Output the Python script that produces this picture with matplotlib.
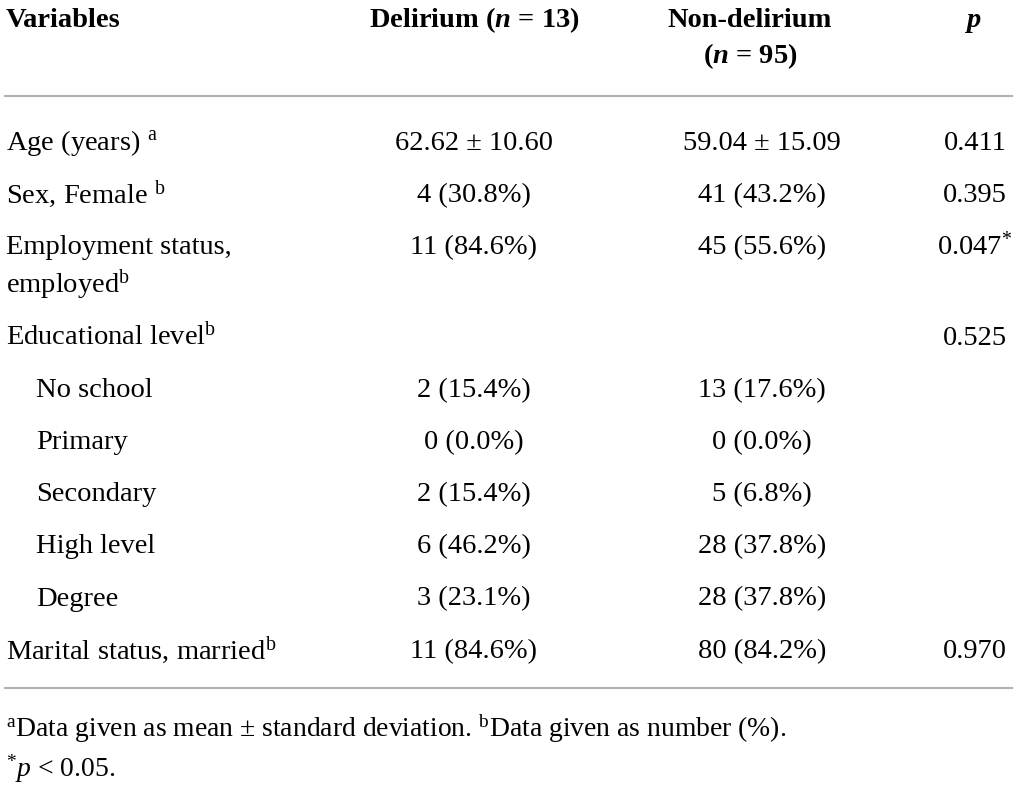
import matplotlib
matplotlib.use("Agg")
import matplotlib.pyplot as plt

plt.rcParams["font.family"] = ["Liberation Serif", "DejaVu Serif"]
plt.rcParams["mathtext.fontset"] = "custom"
plt.rcParams["mathtext.rm"] = "Liberation Serif"
plt.rcParams["mathtext.it"] = "Liberation Serif:italic"
plt.rcParams["mathtext.bf"] = "Liberation Serif:bold"
plt.rcParams["mathtext.bfit"] = "Liberation Serif:bold:italic"

# table content
variables = [
    r"Age (years) $^{\mathrm{a}}$",
    r"Sex, Female $^{\mathrm{b}}$",
    "Employment status,",
    r"Educational level$^{\mathrm{b}}$",
    "No school",
    "Primary",
    "Secondary",
    "High level",
    "Degree",
    r"Marital status, married$^{\mathrm{b}}$",
]
indented = [False, False, False, False, True, True, True, True, True, False]
delirium = ["62.62 ± 10.60", "4 (30.8%)", "11 (84.6%)", "", "2 (15.4%)",
            "0 (0.0%)", "2 (15.4%)", "6 (46.2%)", "3 (23.1%)", "11 (84.6%)"]
non_delirium = ["59.04 ± 15.09", "41 (43.2%)", "45 (55.6%)", "", "13 (17.6%)",
                "0 (0.0%)", "5 (6.8%)", "28 (37.8%)", "28 (37.8%)", "80 (84.2%)"]
p_values = ["0.411", "0.395", "0.047", "0.525", "", "", "", "", "", "0.970"]
significant = [False, False, True, False, False, False, False, False, False, False]

FS = 20.5
W, H = 1017, 785
fig = plt.figure(figsize=(W / 100, H / 100), dpi=100)
ax = fig.add_axes([0, 0, 1, 1])
ax.set_xlim(0, W)
ax.set_ylim(H, 0)
ax.axis("off")

X_VAR, X_IND, X_DEL, X_NON, X_P = 6, 36, 474, 754, 975

# header
ax.text(X_VAR, 27, "Variables", fontsize=FS, fontweight="bold", va="baseline")
ax.text(X_DEL, 27, r"Delirium ($\mathbfit{n}$ = 13)", fontsize=FS, fontweight="bold",
        ha="center", va="baseline")
ax.text(X_NON - 4, 27, "Non-delirium", fontsize=FS, fontweight="bold", ha="center", va="baseline")
ax.text(X_NON - 4, 63, r"($\mathbfit{n}$ = 95)", fontsize=FS, fontweight="bold",
        ha="center", va="baseline")
ax.text(X_P - 2, 27, "p", fontsize=FS, fontweight="bold", style="italic", ha="center", va="baseline")

ax.plot([5, 1012], [96, 96], color="#b0b0b0", lw=1.5)

y0, step = 150, 52.2
y = y0
for i, var in enumerate(variables):
    ax.text(X_IND if indented[i] else X_VAR, y, var, fontsize=FS, va="baseline")
    ax.text(X_DEL, y, delirium[i], fontsize=FS, ha="center", va="baseline")
    ax.text(X_NON + 8, y, non_delirium[i], fontsize=FS, ha="center", va="baseline")
    p_txt = p_values[i] + (r"$^{*}$" if significant[i] else "")
    ax.text(X_P, y, p_txt, fontsize=FS, ha="center", va="baseline")
    if var == "Employment status,":
        ax.text(X_VAR, y + 38, r"employed$^{\mathrm{b}}$", fontsize=FS, va="baseline")
        y += 38
    y += step

ax.plot([5, 1012], [688, 688], color="#b0b0b0", lw=1.5)

ax.text(X_VAR, 737, r"$^{\mathrm{a}}$Data given as mean ± standard deviation. $^{\mathrm{b}}$Data given as number (%).",
        fontsize=FS * 0.97, va="baseline")
ax.text(X_VAR, 777, r"$^{*}$$\mathit{p}$ < 0.05.", fontsize=FS * 0.97, va="baseline")

fig.savefig("out.png", dpi=100)
